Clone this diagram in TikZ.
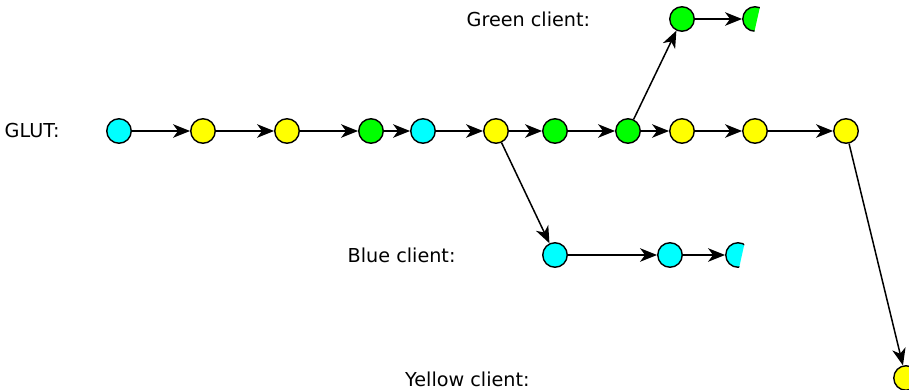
\documentclass[tikz,border=0pt]{standalone}
\usepackage{fontspec}
\setmainfont{DejaVu Sans}
\usetikzlibrary{arrows.meta}
\definecolor{evcyan}{HTML}{00FFFF}
\definecolor{evyellow}{HTML}{FFFF00}
\definecolor{evgreen}{HTML}{00FF00}
\tikzset{
  ev/.style={circle, draw=black, line width=1.4pt, minimum size=24.5pt, inner sep=0pt},
  cy/.style={ev, fill=evcyan},
  ye/.style={ev, fill=evyellow},
  gr/.style={ev, fill=evgreen},
  link/.style={line width=1.5pt, -{Stealth[length=17pt, width=13.5pt, inset=5pt]}},
  lbl/.style={anchor=base west, inner sep=0pt, font=\fontsize{19.2}{23}\selectfont}
}
\begin{document}
\begin{tikzpicture}[x=1pt, y=-1pt]
\useasboundingbox (0,0) rectangle (909,390);
\clip (0,0) rectangle (909,390);

% row labels
\node[lbl] (lglut)   at (4.5,137.5) {GLUT:};
\node[lbl] (lgreen)  at (466.5,27)  {Green client:};
\node[lbl] (lblue)   at (347.5,262) {Blue client:};
\node[lbl] (lyellow) at (405,386)   {Yellow client:};

% GLUT event stream
\node[cy] (g1)  at (119,131) {};
\node[ye] (g2)  at (203,131) {};
\node[ye] (g3)  at (287,131) {};
\node[gr] (g4)  at (371,131) {};
\node[cy] (g5)  at (423,131) {};
\node[ye] (g6)  at (496,131) {};
\node[gr] (g7)  at (555,131) {};
\node[gr] (g8)  at (628,131) {};
\node[ye] (g9)  at (682,131) {};
\node[ye] (g10) at (755,131) {};
\node[ye] (g11) at (846,131) {};

% green client stream (last event cut off)
\node[gr] (c1) at (682,19) {};
\begin{scope}
  \clip (0,0) -- (761.5,0) -- (752.5,40) -- (0,40) -- cycle;
  \node[gr] (c2) at (755,19) {};
\end{scope}

% blue client stream (last event cut off)
\node[cy] (b1) at (555,255) {};
\node[cy] (b2) at (670,255) {};
\begin{scope}
  \clip (0,230) -- (747.5,230) -- (737.5,275) -- (0,275) -- cycle;
  \node[cy] (b3) at (738,255) {};
\end{scope}

% yellow client stream (cut off at the edge)
\node[ye] (y1) at (906,378) {};

% connectors
\draw[link] (g1) -- (g2);
\draw[link] (g2) -- (g3);
\draw[link] (g3) -- (g4);
\draw[link] (g4) -- (g5);
\draw[link] (g5) -- (g6);
\draw[link] (g6) -- (g7);
\draw[link] (g7) -- (g8);
\draw[link] (g8) -- (g9);
\draw[link] (g9) -- (g10);
\draw[link] (g10) -- (g11);

\draw[link] (g8) -- (c1);
\draw[link] (c1) -- (c2);

\draw[link] (g6) -- (b1);
\draw[link] (b1) -- (b2);
\draw[link] (b2) -- (b3);

\draw[link] (g11) -- (y1);
\end{tikzpicture}
\end{document}
